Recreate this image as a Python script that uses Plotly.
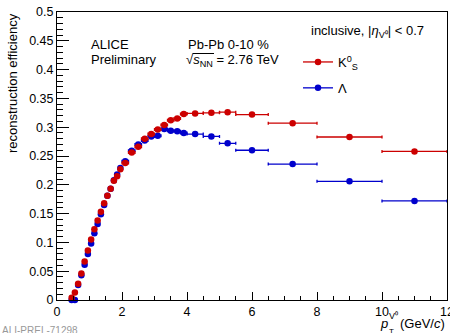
import plotly.graph_objects as go

# ---------------- data ----------------
bin_edges = [0.4, 0.5, 0.6, 0.7, 0.8, 0.9, 1.0, 1.1, 1.2, 1.3, 1.4, 1.5, 1.6, 1.7, 1.8, 1.9, 2.0,
             2.2, 2.4, 2.6, 2.8, 3.0, 3.2, 3.4, 3.6, 3.8, 4.0,
             4.5, 5.0, 5.5, 6.5, 8.0, 10.0, 12.0]
eff_k0s = [0.004, 0.013, 0.028, 0.046, 0.067, 0.086, 0.105, 0.123, 0.138, 0.153, 0.168, 0.181,
           0.193, 0.207, 0.215, 0.227,
           0.238, 0.256, 0.266, 0.280, 0.288, 0.296, 0.304, 0.312, 0.315, 0.323,
           0.324, 0.325, 0.326, 0.322, 0.307, 0.283, 0.258]
eff_lambda = [0.0, 0.0, 0.026, 0.043, 0.061, 0.080, 0.098, 0.116, 0.132, 0.149, 0.165, 0.181,
              0.193, 0.208, 0.218, 0.229,
              0.241, 0.259, 0.270, 0.277, 0.284, 0.285, 0.297, 0.294, 0.293, 0.290,
              0.288, 0.284, 0.272, 0.260, 0.236, 0.206, 0.172]
x_ticks = [0, 2, 4, 6, 8, 10, 12]
y_ticks = [0, 0.05, 0.1, 0.15, 0.2, 0.25, 0.3, 0.35, 0.4, 0.45, 0.5]

centers = [(a + b) / 2 for a, b in zip(bin_edges[:-1], bin_edges[1:])]
halfw = [(b - a) / 2 for a, b in zip(bin_edges[:-1], bin_edges[1:])]

RED = "#cc0000"
BLUE = "#0000cc"
FONT = "Liberation Sans, Arial, sans-serif"

W, H = 450, 333
L, R, T, B = 57, 447, 12, 300


def px(x):
    return (x - L) / (R - L)


def py(y):
    return (B - y) / (B - T)


fig = go.Figure()
for vals, col in [(eff_lambda, BLUE), (eff_k0s, RED)]:
    fig.add_trace(go.Scatter(
        x=centers, y=vals, mode="markers",
        marker=dict(color=col, size=6.5, symbol="circle"),
        error_x=dict(type="data", array=halfw, color=col, thickness=1.3, width=1.5),
        showlegend=False, cliponaxis=False,
    ))

# legend entries
for col, name, grp in [(RED, "K<sup>0</sup><sub>S</sub>", "a"), (BLUE, "Λ", "b")]:
    fig.add_trace(go.Scatter(
        x=[None], y=[None], mode="lines+markers", name=name, legendgroup=grp,
        marker=dict(color=col, size=6.5), line=dict(color=col, width=1.3),
    ))

axis_common = dict(showline=True, linecolor="black", linewidth=1, mirror=True,
                   ticks="inside", tickcolor="black", tickwidth=1,
                   showgrid=False, zeroline=False, ticklabeloverflow="allow",
                   automargin=False,
                   tickfont=dict(family=FONT, size=12.5, color="black"))

fig.update_xaxes(range=[0, 12], tickvals=x_ticks, ticklen=8,
                 minor=dict(ticks="inside", ticklen=4, dtick=0.5, tickcolor="black", showgrid=False),
                 **axis_common)
fig.update_yaxes(range=[0, 0.5], tickvals=y_ticks, ticklen=12,
                 minor=dict(ticks="inside", ticklen=6, dtick=0.01, tickcolor="black", showgrid=False),
                 **axis_common)

ann = []


def text(x, y, s, size=13, xa="left", ya="middle", color="black", angle=0):
    ann.append(dict(x=px(x), y=py(y), xref="paper", yref="paper", text=s, showarrow=False,
                    xanchor=xa, yanchor=ya, textangle=angle,
                    font=dict(family=FONT, size=size, color=color)))


text(89, 44.5, "ALICE")
text(89, 59.5, "Preliminary")
text(186, 44.5, "Pb-Pb 0-10 %")
text(184, 61, "√<i>s</i><sub>NN</sub> = 2.76 TeV")
text(309, 32, "inclusive, |<i>η</i><sub>V⁰</sub>| &lt; 0.7")
text(13, 11, "reconstruction efficiency", xa="center", ya="top", angle=-90)
# x title
text(378, 323, "<i>p</i>")
text(387, 316, "V⁰", size=9)
text(387, 331, "T", size=8)
text(447, 323, "(GeV/<i>c</i>)", xa="right")
text(0, 323, "ALI-PREL-71298", size=10, ya="top", color="#999999")

fig.update_layout(
    width=W, height=H,
    margin=dict(l=L, r=W - R, t=T, b=H - B, pad=0, autoexpand=False),
    paper_bgcolor="white", plot_bgcolor="white",
    annotations=ann,
    shapes=[dict(type="line", xref="paper", yref="paper",
                 x0=px(192.5), x1=px(214), y0=py(53.5), y1=py(53.5),
                 line=dict(color="black", width=1))],
    legend=dict(x=px(298), y=py(47), xanchor="left", yanchor="top",
                font=dict(family=FONT, size=13, color="black"),
                bgcolor="rgba(0,0,0,0)", tracegroupgap=6, itemwidth=30),
    font=dict(family=FONT),
)

fig.write_html("out.html", config={"displayModeBar": False},
               post_script="document.body.style.margin='0';document.body.style.overflow='hidden';")
